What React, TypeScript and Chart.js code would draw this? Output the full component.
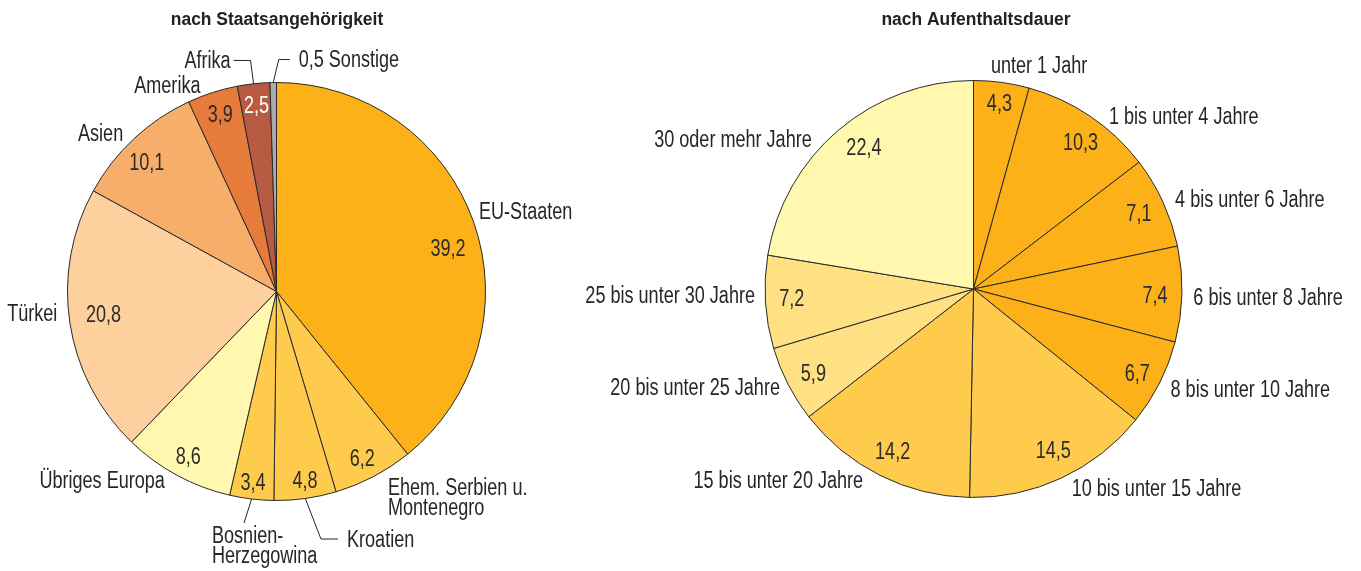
import React, { useEffect, useRef } from "react";
import { Chart, registerables } from "chart.js";

Chart.register(...registerables);

// ---------- data ----------
const nationTitle = "nach Staatsangehörigkeit";
const nationCategories = [
  "EU-Staaten",
  "Ehem. Serbien u.\nMontenegro",
  "Kroatien",
  "Bosnien-\nHerzegowina",
  "Übriges Europa",
  "Türkei",
  "Asien",
  "Amerika",
  "Afrika",
  "Sonstige",
];
const nationValues = [39.2, 6.2, 4.8, 3.4, 8.6, 20.8, 10.1, 3.9, 2.5, 0.5];

const durationTitle = "nach Aufenthaltsdauer";
const durationCategories = [
  "unter 1 Jahr",
  "1 bis unter 4 Jahre",
  "4 bis unter 6 Jahre",
  "6 bis unter 8 Jahre",
  "8 bis unter 10 Jahre",
  "10 bis unter 15 Jahre",
  "15 bis unter 20 Jahre",
  "20 bis unter 25 Jahre",
  "25 bis unter 30 Jahre",
  "30 oder mehr Jahre",
];
const durationValues = [4.3, 10.3, 7.1, 7.4, 6.7, 14.5, 14.2, 5.9, 7.2, 22.4];

// ---------- styles ----------
const nationColors = [
  "#FBB117",
  "#FFCB4D",
  "#FFCB4D",
  "#FFCB4D",
  "#FFF8AE",
  "#FDD09E",
  "#F8AE6B",
  "#E67B3B",
  "#B75B43",
  "#AAAAAA",
];
const durationColors = [
  "#FBB117",
  "#FBB117",
  "#FBB117",
  "#FBB117",
  "#FBB117",
  "#FFCB4D",
  "#FFCB4D",
  "#FFE083",
  "#FFE083",
  "#FFF8AE",
];
const nationValueTextColors = ["#2b2b2b", "#2b2b2b", "#2b2b2b", "#2b2b2b", "#2b2b2b", "#2b2b2b", "#2b2b2b", "#2b2b2b", "#ffffff", "#2b2b2b"];
const durationValueTextColors = durationValues.map(() => "#2b2b2b");

// label layout: value labels [angle offset deg, radius fraction]
const nationValueLayout: (number[] | null)[] = [
  [5.2, 0.847],
  [0.5, 0.898],
  [-0.7, 0.912],
  [0.2, 0.917],
  [-0.3, 0.896],
  [1.2, 0.835],
  [-2.0, 0.878],
  [0.2, 0.89],
  [0.2, 0.897],
  null,
];
const durationValueLayout: (number[] | null)[] = [
  [0.2, 0.9],
  [2.0, 0.873],
  [0.0, 0.873],
  [0.5, 0.871],
  [0.4, 0.883],
  [-1.3, 0.863],
  [-0.2, 0.871],
  [-0.6, 0.868],
  [0.6, 0.873],
  [2.7, 0.861],
];

type NameLayout =
  | { kind: "radial"; off: number; dist: number; align: CanvasTextAlign; withValue?: boolean }
  | { kind: "leader"; pts: number[][]; text: number[]; align: CanvasTextAlign; withValue?: boolean };

const nationNameLayout: NameLayout[] = [
  { kind: "radial", off: -2.3, dist: 9, align: "left" },
  { kind: "radial", off: -2.0, dist: 15.8, align: "left" },
  { kind: "leader", pts: [[15.7, 40.5], [17, 0]], text: [9, 0], align: "left" },
  { kind: "leader", pts: [[-7.6, 24]], text: [-32, 12], align: "left" },
  { kind: "radial", off: 2.2, dist: 10, align: "right" },
  { kind: "radial", off: 2.9, dist: 11.3, align: "right" },
  { kind: "radial", off: -1.1, dist: 11.2, align: "right" },
  { kind: "radial", off: -2.4, dist: 11, align: "right" },
  { kind: "leader", pts: [[-3, -23.3], [-17, 0]], text: [-3, 0], align: "right" },
  { kind: "leader", pts: [[5.5, -23], [11, 0]], text: [9, 0], align: "left", withValue: true },
];
const durationOffsets = [-3.3, 4, 0.7, 0.6, 0.2, -1.2, 3.4, 0.2, 2, -6.9];
const durationDists = [16.2, 11.5, 12.1, 11.5, 12.7, 13.7, 12, 8.7, 10.1, 11.9];
const durationNameLayout: NameLayout[] = durationOffsets.map((off, i) => ({
  kind: "radial",
  off,
  dist: durationDists[i],
  align: i < 6 ? "left" : "right",
}));

const FAMILY = '"Liberation Sans", Arial, sans-serif';
const TEXT_FONT = `23px ${FAMILY}`;
const TEXT_SX = 0.785;
const TEXT_DY = 1.5;
const TITLE_FONT = `bold 18px ${FAMILY}`;
const TITLE_SX = 0.97;
const TEXT_COLOR = "#262626";
const LINE_HEIGHT = 20;
const W = 1361;
const H = 571;

const fmt = (v: number) => v.toFixed(1).replace(".", ",");

function drawText(
  ctx: CanvasRenderingContext2D,
  text: string,
  x: number,
  y: number,
  align: CanvasTextAlign,
  font: string,
  sx: number,
  color: string,
  baseline: CanvasTextBaseline = "middle"
) {
  ctx.save();
  ctx.font = font;
  const w = ctx.measureText(text).width * sx;
  let left = x;
  if (align === "center") left = x - w / 2;
  else if (align === "right") left = x - w;
  ctx.translate(left, y + (baseline === "middle" ? TEXT_DY : 0));
  ctx.scale(sx, 1);
  ctx.textAlign = "left";
  ctx.textBaseline = baseline;
  ctx.fillStyle = color;
  ctx.fillText(text, 0, 0);
  ctx.restore();
}

function makeLabelPlugin(cfg: {
  title: string;
  titleX: number;
  categories: string[];
  values: number[];
  valueLayout: (number[] | null)[];
  valueColors: string[];
  nameLayout: NameLayout[];
}) {
  return {
    id: "customLabels",
    afterDraw(chart: any) {
      const ctx: CanvasRenderingContext2D = chart.ctx;
      const arcs = chart.getDatasetMeta(0).data as any[];
      drawText(ctx, cfg.title, cfg.titleX, 25, "center", TITLE_FONT, TITLE_SX, "#222222", "alphabetic");
      arcs.forEach((arc, i) => {
        const p = arc.getProps(["x", "y", "startAngle", "endAngle", "outerRadius"], true);
        const cx = p.x, cy = p.y, R = p.outerRadius;
        const mid = (p.startAngle + p.endAngle) / 2 + Math.PI / 2;
        const pt = (theta: number, r: number) => [cx + r * Math.sin(theta), cy - r * Math.cos(theta)];
        const deg = Math.PI / 180;
        const val = cfg.values[i];
        const vl = cfg.valueLayout[i];
        if (vl) {
          const [vx, vy] = pt(mid + vl[0] * deg, R * vl[1]);
          drawText(ctx, fmt(val), vx, vy, "center", TEXT_FONT, TEXT_SX, cfg.valueColors[i]);
        }
        const nl = cfg.nameLayout[i];
        const label = nl.withValue ? `${fmt(val)} ${cfg.categories[i]}` : cfg.categories[i];
        const lines = label.split("\n");
        let tx = 0, ty = 0;
        if (nl.kind === "radial") {
          [tx, ty] = pt(mid + nl.off * deg, R + nl.dist);
        } else {
          let [lx, ly] = pt(mid, R);
          ctx.save();
          ctx.strokeStyle = TEXT_COLOR;
          ctx.lineWidth = 1;
          ctx.beginPath();
          ctx.moveTo(lx, ly);
          nl.pts.forEach(([dx, dy]) => {
            lx += dx;
            ly += dy;
            ctx.lineTo(lx, ly);
          });
          ctx.stroke();
          ctx.restore();
          tx = lx + nl.text[0];
          ty = ly + nl.text[1];
        }
        lines.forEach((ln, k) => {
          drawText(ctx, ln, tx, ty + k * LINE_HEIGHT, nl.align, TEXT_FONT, TEXT_SX, TEXT_COLOR);
        });
      });
    },
  };
}

function PieCanvas(props: {
  padding: { left: number; right: number; top: number; bottom: number };
  categories: string[];
  values: number[];
  colors: string[];
  plugin: any;
}) {
  const ref = useRef<HTMLCanvasElement | null>(null);
  useEffect(() => {
    if (!ref.current) return;
    const chart = new Chart(ref.current, {
      type: "pie",
      data: {
        labels: props.categories.map((c) => c.replace("\n", " ")),
        datasets: [
          {
            data: props.values,
            backgroundColor: props.colors,
            borderColor: "#2a2a2a",
            borderWidth: 1,
          },
        ],
      },
      options: {
        responsive: false,
        animation: false,
        layout: { padding: props.padding },
        plugins: {
          legend: { display: false },
          tooltip: { enabled: false },
          title: { display: false },
        },
      },
      plugins: [props.plugin],
    } as any);
    return () => chart.destroy();
  }, []);
  return (
    <canvas
      ref={ref}
      width={W}
      height={H}
      style={{ position: "absolute", left: 0, top: 0, width: W, height: H }}
    />
  );
}

export default function App() {
  const nationPlugin = makeLabelPlugin({
    title: nationTitle,
    titleX: 277,
    categories: nationCategories,
    values: nationValues,
    valueLayout: nationValueLayout,
    valueColors: nationValueTextColors,
    nameLayout: nationNameLayout,
  });
  const durationPlugin = makeLabelPlugin({
    title: durationTitle,
    titleX: 976,
    categories: durationCategories,
    values: durationValues,
    valueLayout: durationValueLayout,
    valueColors: durationValueTextColors,
    nameLayout: durationNameLayout,
  });
  return (
    <div style={{ position: "absolute", left: 0, top: 0, width: W, height: H, background: "#ffffff" }}>
      <PieCanvas
        padding={{ left: 67, right: W - 486, top: 82, bottom: 70 }}
        categories={nationCategories}
        values={nationValues}
        colors={nationColors}
        plugin={nationPlugin}
      />
      <PieCanvas
        padding={{ left: 764.5, right: W - 1182.5, top: 80, bottom: 73 }}
        categories={durationCategories}
        values={durationValues}
        colors={durationColors}
        plugin={durationPlugin}
      />
    </div>
  );
}
